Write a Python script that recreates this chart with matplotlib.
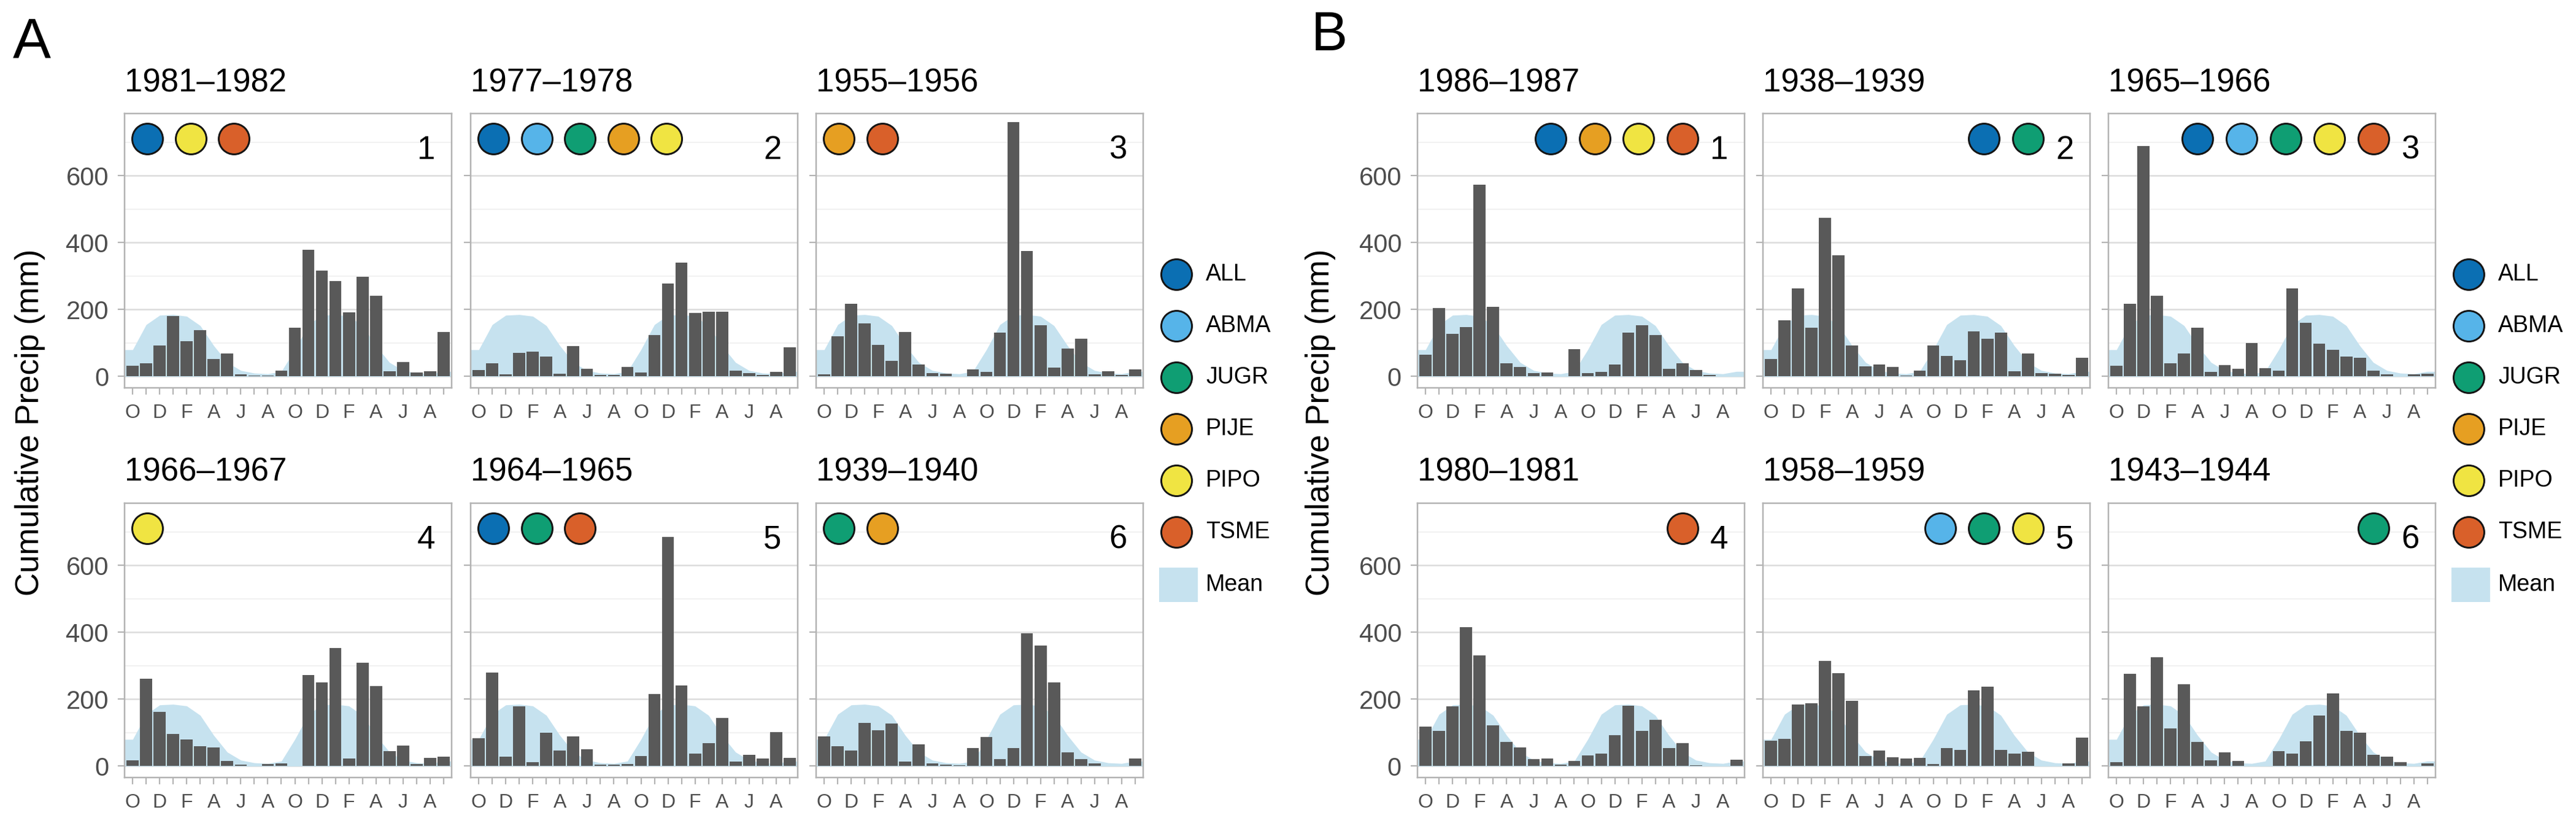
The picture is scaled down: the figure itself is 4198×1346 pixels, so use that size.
import numpy as np
import matplotlib
matplotlib.use('Agg')
import matplotlib.pyplot as plt
from matplotlib.patches import Rectangle

plt.rcParams['font.family'] = ['Liberation Sans', 'DejaVu Sans']

# ---------------- data ----------------
months = ['O', 'N', 'D', 'J', 'F', 'M', 'A', 'M', 'J', 'J', 'A', 'S'] * 2
tick_labels = [m if i % 2 == 0 else '' for i, m in enumerate(months)]

mean_precip = [80, 155, 183, 185, 180, 152, 92, 42, 18, 10, 8, 15]

species = ['ALL', 'ABMA', 'JUGR', 'PIJE', 'PIPO', 'TSME']
species_colors = ['#0b6fb3', '#56b4e9', '#0f9e73', '#e69f22', '#f0e442', '#d9602a']

a_titles = ['1981\u20131982', '1977\u20131978', '1955\u20131956',
            '1966\u20131967', '1964\u20131965', '1939\u20131940']
a_species = [['ALL', 'PIPO', 'TSME'],
             ['ALL', 'ABMA', 'JUGR', 'PIJE', 'PIPO'],
             ['PIJE', 'TSME'],
             ['PIPO'],
             ['ALL', 'JUGR', 'TSME'],
             ['JUGR', 'PIJE']]
a1_precip = [32, 39, 92, 181, 106, 138, 53, 69, 6, 2, 2, 18, 145, 378, 316, 285, 192, 298, 241, 16, 43, 12, 16, 133]
a2_precip = [20, 40, 7, 70, 74, 59, 9, 90, 22, 5, 5, 28, 11, 123, 278, 341, 189, 193, 193, 18, 10, 5, 14, 87]
a3_precip = [6, 121, 217, 158, 94, 47, 133, 36, 10, 8, 1, 21, 14, 132, 760, 376, 153, 26, 84, 113, 6, 16, 4, 21]
a4_precip = [17, 262, 162, 96, 80, 60, 55, 16, 5, 1, 7, 8, 0, 273, 251, 353, 22, 309, 239, 45, 61, 7, 24, 29]
a5_precip = [84, 280, 29, 178, 11, 100, 46, 88, 50, 4, 4, 7, 31, 216, 686, 242, 38, 69, 144, 13, 34, 22, 101, 25]
a6_precip = [89, 60, 46, 130, 107, 127, 13, 65, 8, 5, 3, 54, 87, 21, 54, 397, 360, 251, 42, 21, 8, 1, 1, 22]

b_titles = ['1986\u20131987', '1938\u20131939', '1965\u20131966',
            '1980\u20131981', '1958\u20131959', '1943\u20131944']
b_species = [['ALL', 'PIJE', 'PIPO', 'TSME'],
             ['ALL', 'JUGR'],
             ['ALL', 'ABMA', 'JUGR', 'PIPO', 'TSME'],
             ['TSME'],
             ['ABMA', 'JUGR', 'PIPO'],
             ['JUGR']]
b1_precip = [65, 205, 128, 148, 573, 209, 39, 29, 10, 12, 1, 82, 10, 13, 35, 132, 153, 123, 22, 39, 20, 4, 1, 1]
b2_precip = [52, 167, 264, 146, 474, 362, 93, 30, 35, 29, 3, 17, 93, 61, 48, 134, 112, 131, 16, 68, 10, 9, 4, 56]
b3_precip = [32, 217, 689, 242, 39, 68, 146, 13, 34, 22, 100, 25, 18, 264, 161, 98, 80, 60, 56, 18, 6, 1, 6, 9]
b4_precip = [119, 105, 179, 416, 331, 122, 73, 55, 21, 23, 4, 16, 32, 38, 92, 181, 105, 139, 54, 68, 3, 1, 1, 19]
b5_precip = [76, 81, 185, 188, 315, 277, 196, 30, 46, 27, 22, 25, 6, 54, 48, 227, 238, 48, 37, 43, 0, 1, 8, 86]
b6_precip = [11, 276, 178, 326, 113, 245, 72, 18, 42, 15, 0, 0, 45, 37, 75, 152, 217, 105, 100, 34, 29, 11, 0, 8]

a_values = [a1_precip, a2_precip, a3_precip, a4_precip, a5_precip, a6_precip]
b_values = [b1_precip, b2_precip, b3_precip, b4_precip, b5_precip, b6_precip]

# ---------------- style ----------------
W, H, DPI = 4198, 1346, 200
PX = 72.0 / DPI  # points per pixel

bar_color = '#595959'
mean_color = '#c6e2ef'
border_color = '#b3b3b3'
text_gray = '#4d4d4d'
color_of = dict(zip(species, species_colors))

fig = plt.figure(figsize=(W / DPI, H / DPI), dpi=DPI)


def rect(l, t, w, h):
    return [l / W, 1 - (t + h) / H, w / W, h / H]


col_lefts = {'A': [203, 767, 1330], 'B': [2310, 2873, 3436]}
row_tops = [185, 820]
PW, PH = 533, 447

x = np.arange(1, 25)
mean_tiled = np.tile(mean_precip, 2)
xm = np.r_[0.4, x, 24.6]
ym = np.r_[mean_tiled[0], mean_tiled, mean_tiled[-1]]

for side, titles, spp, values in [('A', a_titles, a_species, a_values),
                                  ('B', b_titles, b_species, b_values)]:
    for k in range(6):
        row, col = divmod(k, 3)
        ax = fig.add_axes(rect(col_lefts[side][col], row_tops[row], PW, PH))
        ax.fill_between(xm, ym, 0, color=mean_color, lw=0, zorder=1)
        ax.bar(x, values[k], width=0.9, color=bar_color, lw=0, zorder=2)
        ax.set_xlim(0.4, 24.6)
        ax.set_ylim(-34, 786)
        ax.set_yticks([0, 200, 400, 600])
        ax.set_yticks([100, 300, 500, 700], minor=True)
        ax.set_xticks(x)
        ax.set_xticklabels(tick_labels)
        ax.set_axisbelow(True)
        ax.grid(axis='y', which='major', color='#dcdcdc', lw=0.9)
        ax.grid(axis='y', which='minor', color='#ededed', lw=0.55)
        ax.tick_params(axis='y', which='minor', left=False)
        ax.tick_params(axis='both', which='major', color=border_color,
                       length=11 * PX, width=2.2 * PX, labelcolor=text_gray)
        ax.tick_params(axis='x', labelsize=11.5, pad=15 * PX)
        ax.tick_params(axis='y', labelsize=15, pad=15 * PX, labelleft=(col == 0))
        for s in ax.spines.values():
            s.set_color(border_color)
            s.set_linewidth(2.5 * PX)

        # species circles
        sp = spp[k]
        n = len(sp)
        if side == 'A':
            xs = 2.1 + 3.2 * np.arange(n)
        else:
            xs = 20.0 - 3.25 * np.arange(n)[::-1]
        for xi, s in zip(xs, sp):
            ax.plot(xi, 710, 'o', ms=50 * PX, mfc=color_of[s], mec='#151515',
                    mew=3 * PX, zorder=5, clip_on=False)
        ax.text(23.4, 651, str(k + 1), ha='right', va='baseline',
                fontsize=19, color='black', zorder=6)
        ax.annotate(titles[k], xy=(0, 1), xycoords='axes fraction',
                    xytext=(0, 36 * PX), textcoords='offset points',
                    ha='left', va='baseline', fontsize=19, color='black')

# panel letters and axis labels
fig.text(21 / W, 1 - 94 / H, 'A', fontsize=33.5, ha='left', va='baseline')
fig.text(2137 / W, 1 - 82 / H, 'B', fontsize=32, ha='left', va='baseline')
for lx in [49, 2152]:
    fig.text(lx / W, 1 - 688 / H, 'Cumulative Precip (mm)', rotation=90,
             ha='center', va='center', fontsize=19)

# legends
lax = fig.add_axes([0, 0, 1, 1])
lax.set_xlim(0, W)
lax.set_ylim(H, 0)
lax.set_facecolor('none')
lax.axis('off')
for lx in [1917, 4023]:
    for i, (s, c) in enumerate(zip(species, species_colors)):
        ly = 447 + 84 * i
        lax.plot(lx, ly, 'o', ms=50 * PX, mfc=c, mec='#151515', mew=3 * PX)
        lax.text(lx + 48, ly, s, ha='left', va='center', fontsize=13.5)
    lax.add_patch(Rectangle((lx - 28, 953 - 28), 63, 56, color=mean_color, lw=0))
    lax.text(lx + 48, 953, 'Mean', ha='left', va='center', fontsize=13.5)

fig.savefig('out.png', dpi=DPI)
